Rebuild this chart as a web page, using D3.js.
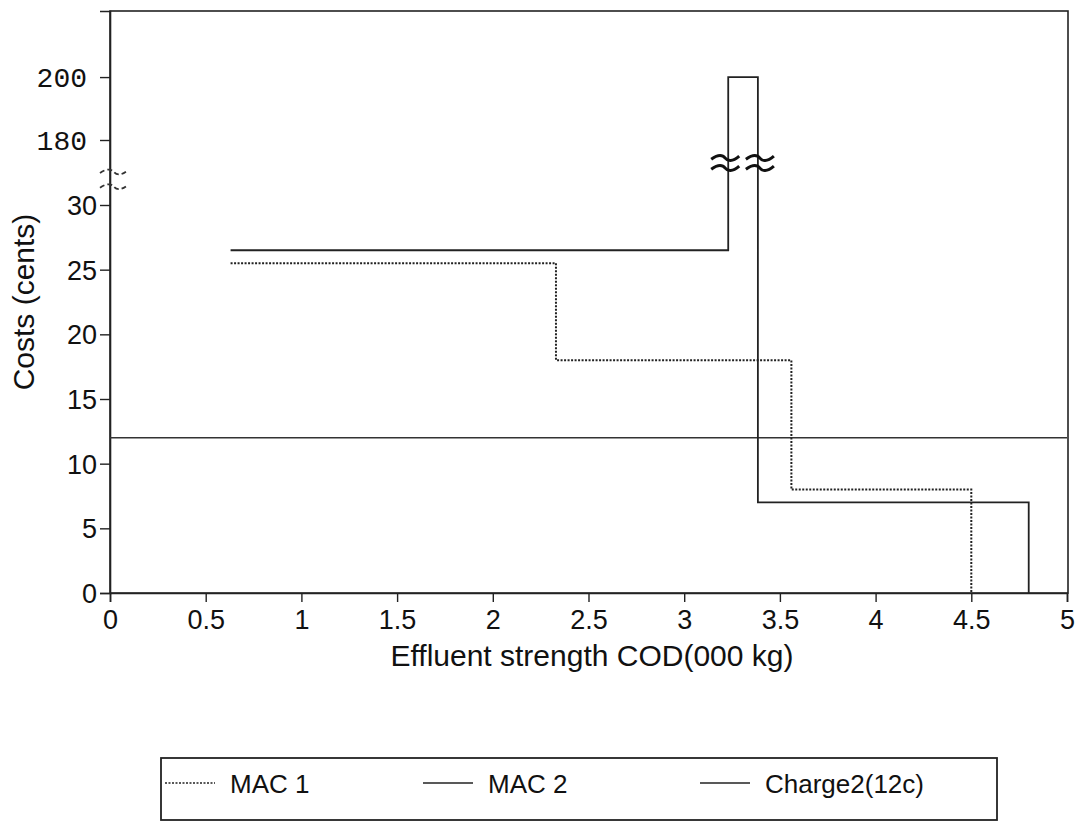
<!DOCTYPE html>
<html>
<head>
<meta charset="utf-8">
<script src="https://cdn.jsdelivr.net/npm/d3@7"></script>
<style>
  body { margin: 0; background: #fff; }
  svg { display: block; }
  .tick text { font-family: "Liberation Sans", Arial, sans-serif; font-size: 27px; fill: #111; }
  .tick text.mono { font-family: "Liberation Mono", "DejaVu Sans Mono", monospace; font-size: 28px; }
</style>
</head>
<body>
<div id="chart"></div>
<script>
// data
var xTicks = [0, 0.5, 1, 1.5, 2, 2.5, 3, 3.5, 4, 4.5, 5];
var yTicks = [0, 5, 10, 15, 20, 25, 30, 180, 200];
// step points (value holds until the next x)
var mac1X = [0.63, 2.33, 3.56, 4.5];
var mac1Y = [25.5, 18, 8, 0];
var mac2X = [0.63, 3.23, 3.385, 4.8];
var mac2Y = [26.5, 200, 7, 0];
var chargeX = [0, 5];
var chargeY = [12, 12];
var breakVals = [138, 115];     // ~ marks cutting the MAC 2 verticals
var axisBreakVals = [106, 72];  // ~ marks on the y axis
var seriesNames = ["MAC 1", "MAC 2", "Charge2(12c)"];

var W = 1084, H = 821;
var plotLeft = 110, plotRight = 1067, plotTop = 11, plotBottom = 593;

var svg = d3.select("#chart").append("svg")
    .attr("width", W)
    .attr("height", H);

var x = d3.scaleLinear().domain([0, 5]).range([plotLeft, plotRight]);
// broken axis: 0-30 then jump to 180-221
var y = d3.scaleLinear().domain([0, 30, 180, 221]).range([plotBottom, 205, 140, plotTop]);

var ink = "#222";
var font = "Liberation Sans, Arial, sans-serif";

// frame
svg.append("rect")
    .attr("x", plotLeft).attr("y", plotTop)
    .attr("width", plotRight - plotLeft + 1).attr("height", plotBottom - plotTop)
    .style("fill", "none")
    .style("stroke", ink)
    .style("stroke-width", 1.6);

// axes
var xAxis = svg.append("g")
    .attr("transform", "translate(0," + plotBottom + ")")
    .call(d3.axisBottom(x).tickValues(xTicks).tickSize(9).tickPadding(8).tickFormat(d3.format("")));
var yAxis = svg.append("g")
    .attr("transform", "translate(" + plotLeft + ",0)")
    .call(d3.axisLeft(y).tickValues(yTicks).tickSize(10).tickPadding(3));

[xAxis, yAxis].forEach(function(a) {
    a.select(".domain").style("stroke", ink).style("stroke-width", 1.6);
    a.selectAll(".tick line").style("stroke", ink).style("stroke-width", 1.4);
});
yAxis.selectAll(".tick text")
    .attr("dy", "0.35em")
    .classed("mono", function(d) { return d > 100; })
    .attr("dx", function(d) { return d > 100 ? -10 : 0; });

// axis titles
svg.append("text")
    .attr("x", 592)
    .attr("y", 666)
    .attr("text-anchor", "middle")
    .style("font-family", font)
    .style("font-size", "30px")
    .style("fill", "#111")
    .text("Effluent strength COD(000 kg)");

svg.append("text")
    .attr("transform", "translate(34,302) rotate(-90)")
    .attr("text-anchor", "middle")
    .style("font-family", font)
    .style("font-size", "30px")
    .style("fill", "#111")
    .text("Costs (cents)");

// series
var step = d3.line()
    .x(function(d) { return x(d[0]); })
    .y(function(d) { return y(d[1]); })
    .curve(d3.curveStepAfter);

function pts(xs, ys) { return xs.map(function(v, i) { return [v, ys[i]]; }); }

svg.append("path")
    .datum(pts(chargeX, chargeY))
    .attr("d", step)
    .style("fill", "none").style("stroke", "#333").style("stroke-width", 1.5);

svg.append("path")
    .datum(pts(mac1X, mac1Y))
    .attr("d", step)
    .style("fill", "none").style("stroke", "#222").style("stroke-width", 2)
    .style("stroke-dasharray", "2,1.5");

svg.append("path")
    .datum(pts(mac2X, mac2Y))
    .attr("d", step)
    .style("fill", "none").style("stroke", "#222").style("stroke-width", 1.8);

// break marks (~)
function tilde(cx, cy, w) {
    var h = w / 2;
    return "M" + (cx - h) + "," + (cy + 1) +
        " C" + (cx - h / 2) + "," + (cy - 4) + " " + (cx - h / 6) + "," + (cy - 3) + " " + cx + "," + cy +
        " S" + (cx + h / 2) + "," + (cy + 4) + " " + (cx + h) + "," + (cy - 2);
}
var breakG = svg.append("g");
[mac2X[1], mac2X[2]].forEach(function(xv, j) {
    breakVals.forEach(function(bv) {
        breakG.append("path")
            .attr("d", tilde(x(xv) + (j === 0 ? -3 : 2), y(bv), 28))
            .style("fill", "none").style("stroke", "#111").style("stroke-width", 3);
    });
});
axisBreakVals.forEach(function(bv) {
    breakG.append("path")
        .attr("d", tilde(plotLeft + 4, y(bv), 28))
        .style("fill", "none").style("stroke", "#333").style("stroke-width", 1.8)
        .style("stroke-dasharray", "5,3");
});

// legend
var lg = svg.append("g");
lg.append("rect")
    .attr("x", 161).attr("y", 758)
    .attr("width", 836).attr("height", 62)
    .style("fill", "none").style("stroke", ink).style("stroke-width", 1.8);

var legendX = [165, 423, 700];
var dashes = ["2,1.5", null, null];
seriesNames.forEach(function(name, i) {
    lg.append("line")
        .attr("x1", legendX[i]).attr("x2", legendX[i] + 50)
        .attr("y1", 783).attr("y2", 783)
        .style("stroke", "#222").style("stroke-width", 1.6)
        .style("stroke-dasharray", dashes[i]);
    lg.append("text")
        .attr("x", legendX[i] + 65)
        .attr("y", 793)
        .style("font-family", font)
        .style("font-size", "26px")
        .style("fill", "#111")
        .text(name);
});
</script>
</body>
</html>
